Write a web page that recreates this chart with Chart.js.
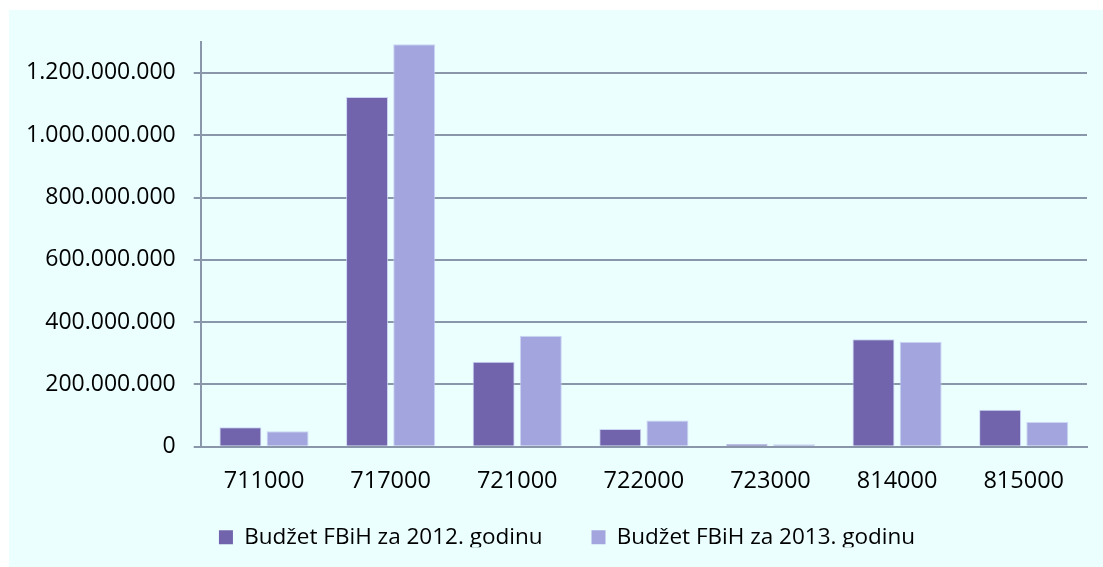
<!DOCTYPE html>
<html><head><meta charset="utf-8">
<script src="https://cdn.jsdelivr.net/npm/chart.js@4/dist/chart.umd.min.js"></script>
<style>
html,body{margin:0;padding:0;background:#fff;}
#wrap{position:absolute;left:9px;top:10px;width:1094px;height:557px;background:#EBFFFF;}
canvas{display:block;}
</style></head><body>
<div id="wrap"><canvas id="c" width="1094" height="557"></canvas></div>
<script>
const categories = ['711000','717000','721000','722000','723000','814000','815000'];
const budget2012 = [62700000, 1123000000, 273000000, 57000000, 8600000, 345000000, 119000000];
const budget2013 = [50000000, 1292000000, 356000000, 84000000, 7600000, 337000000, 79000000];
const seriesNames = ['Budžet FBiH za 2012. godinu', 'Budžet FBiH za 2013. godinu'];
const yTickValues = [0, 200000000, 400000000, 600000000, 800000000, 1000000000, 1200000000];
const yMax = 1300000000;

const fmt = v => String(Math.round(v)).replace(/\B(?=(\d{3})+(?!\d))/g, '.');
const FONT = "'Open Sans'";
const gridColor = '#8A97AA';

const legendAdjust = {
  id: 'legendAdjust',
  beforeLayout(chart) {
    const L = chart.legend;
    if (!L || L._fitWrapped) return;
    const orig = L.fit.bind(L);
    L.fit = function () { orig(); this.height = 70.3; };
    L._fitWrapped = true;
  },
  afterLayout(chart) {
    const L = chart.legend;
    if (!L) return;
    const h = L.height;
    L.left += 19; L.right += 19;
    L.top = 467; L.bottom = 467 + h;
  }
};

new Chart(document.getElementById('c'), {
  type: 'bar',
  data: {
    labels: categories,
    datasets: [
      {label: seriesNames[0], data: budget2012, backgroundColor: '#7264AC',
       borderColor: 'rgba(196,204,240,0.8)', borderWidth: {top: 1, left: 1, right: 1, bottom: 0},
       categoryPercentage: 0.745, barPercentage: 0.89},
      {label: seriesNames[1], data: budget2013, backgroundColor: '#A3A6DE',
       borderColor: 'rgba(196,204,240,0.8)', borderWidth: {top: 1, left: 1, right: 1, bottom: 0},
       categoryPercentage: 0.745, barPercentage: 0.89}
    ]
  },
  plugins: [legendAdjust],
  options: {
    responsive: false,
    animation: false,
    devicePixelRatio: 1,
    layout: {padding: {left: 0, right: 16, top: 29, bottom: 0}},
    plugins: {
      legend: {
        position: 'bottom',
        labels: {
          font: {family: FONT, size: 22.5}, color: '#000', boxWidth: 14, boxHeight: 14, padding: 49,
          generateLabels: chart => chart.data.datasets.map((ds, i) => ({
            text: ds.label, fillStyle: ds.backgroundColor, strokeStyle: ds.backgroundColor,
            lineWidth: 0, hidden: false, datasetIndex: i, fontColor: '#000'
          }))
        }
      },
      tooltip: {enabled: false}
    },
    scales: {
      x: {
        afterFit: s => { s.height = 50; },
        grid: {display: false, drawTicks: false},
        border: {display: true, color: gridColor, width: 2},
        ticks: {font: {family: FONT, size: 23.5}, color: '#000', padding: 21}
      },
      y: {
        min: 0, max: yMax,
        afterBuildTicks: s => { s.ticks = yTickValues.map(v => ({value: v})); },
        afterFit: s => { s.width = 191.7; },
        grid: {color: gridColor, lineWidth: 2, tickLength: 7, drawTicks: true},
        border: {display: true, color: gridColor, width: 2},
        ticks: {font: {family: FONT, size: 23}, color: '#000', padding: 18, callback: v => fmt(v)}
      }
    }
  }
});
</script>
</body></html>
